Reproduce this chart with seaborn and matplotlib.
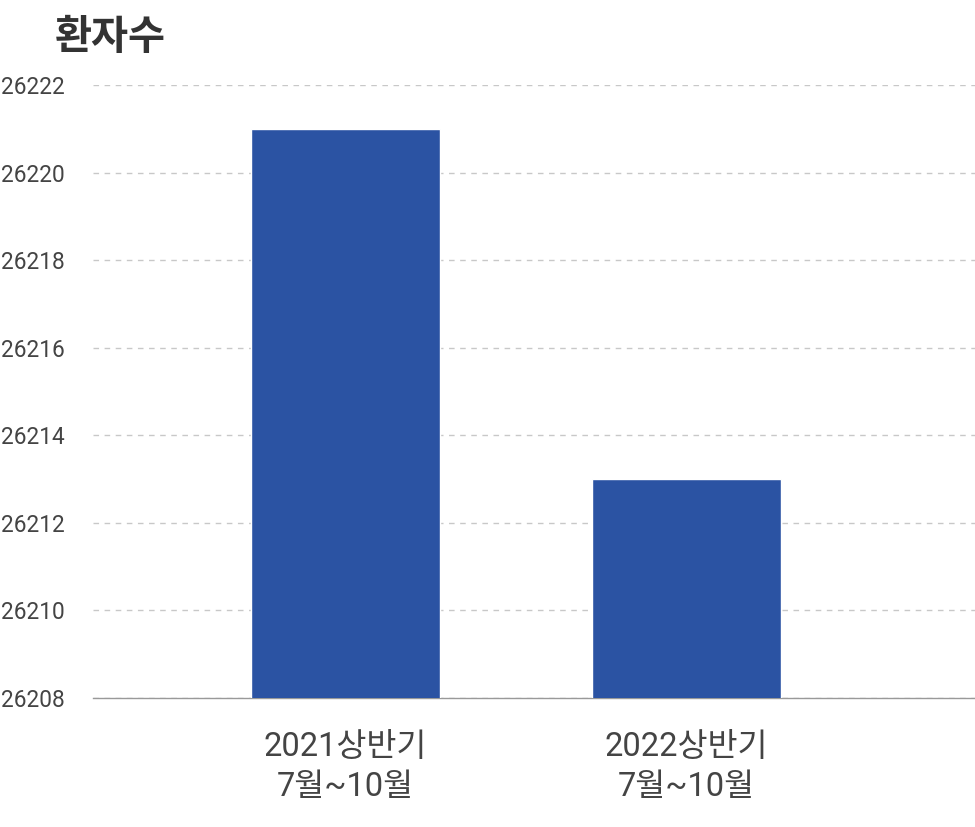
import matplotlib
matplotlib.use('Agg')
import matplotlib.pyplot as plt
import seaborn as sns
import pandas as pd

# chart data
categories = ['2021상반기\n7월~10월', '2022상반기\n7월~10월']
patients = [26221, 26213]
y_ticks = [26208, 26210, 26212, 26214, 26216, 26218, 26220, 26222]

bar_color = '#2b53a3'
text_color = '#444444'

sns.set_theme(style='white')
plt.rcParams['font.family'] = ['Roboto', 'Noto Sans CJK KR', 'DejaVu Sans']

df = pd.DataFrame({'period': categories, 'count': patients})

fig = plt.figure(figsize=(9.75, 8.27), dpi=100)
ax = fig.add_axes([0.0954, 0.156, 0.9046, 0.741])

sns.barplot(data=df, x='period', y='count', color=bar_color, width=0.554,
            saturation=1, ax=ax, zorder=3)

ax.set_ylim(y_ticks[0], y_ticks[-1])
ax.set_xlim(-0.74, 1.846)
ax.set_yticks(y_ticks)
ax.set_yticklabels([str(t) for t in y_ticks])
ax.yaxis.grid(True, linestyle=(0, (4, 4)), color='#c8c8c8', linewidth=1.0, zorder=0)
ax.xaxis.grid(False)

for side in ['top', 'right', 'left']:
    ax.spines[side].set_visible(False)
ax.spines['bottom'].set_color('#999999')
ax.spines['bottom'].set_linewidth(1.0)

# pad is in points (1pt = 1.39px at dpi 100)
ax.tick_params(axis='y', length=0, pad=20, labelsize=16.3, labelcolor=text_color)
ax.tick_params(axis='x', length=0, pad=24, labelsize=23.5, labelcolor=text_color)
for lbl in ax.get_xticklabels():
    lbl.set_linespacing(1.3)

ax.set_xlabel('')
ax.set_ylabel('')

fig.text(0.056, 0.955, '환자수', fontsize=29, fontweight='bold', color='#333333',
         ha='left', va='center', family=['Noto Sans CJK KR', 'DejaVu Sans'])

fig.savefig('out.png', dpi=100, facecolor='white')
